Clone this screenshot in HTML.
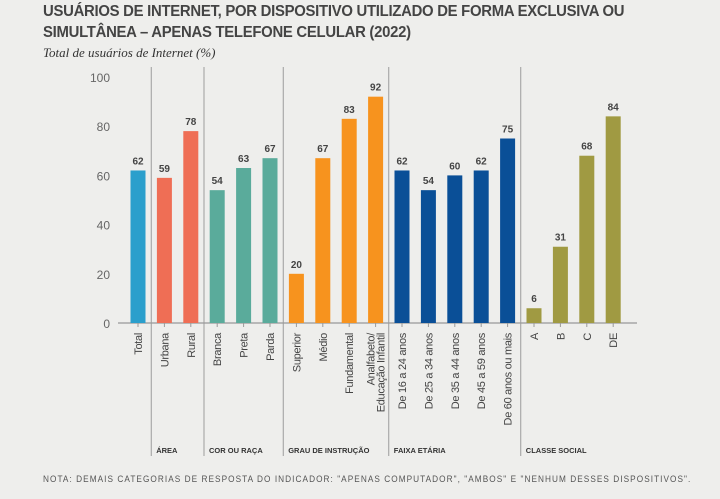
<!DOCTYPE html>
<html><head><meta charset="utf-8"><style>
body{margin:0;background:#eeeeec;width:720px;height:499px;overflow:hidden;font-family:"Liberation Sans",sans-serif}
.t{position:absolute;left:43px;top:1px;font-size:16px;font-weight:bold;color:#444;line-height:21px;letter-spacing:-0.3px;transform:scaleX(0.93);transform-origin:left;white-space:nowrap}
.s{position:absolute;left:43px;top:45px;font-family:"Liberation Serif",serif;font-style:italic;font-size:13px;color:#333}
.n{position:absolute;left:43px;top:474px;font-size:9px;color:#555;letter-spacing:1.15px;white-space:nowrap;transform:scaleX(0.915);transform-origin:left}
</style></head><body>
<div class="t">USUÁRIOS DE INTERNET, POR DISPOSITIVO UTILIZADO DE FORMA EXCLUSIVA OU<br>SIMULTÂNEA – APENAS TELEFONE CELULAR (2022)</div>
<div class="s">Total de usuários de Internet (%)</div>
<svg id="c" width="720" height="499" style="position:absolute;left:0;top:0"></svg>
<div class="n">NOTA: DEMAIS CATEGORIAS DE RESPOSTA DO INDICADOR: "APENAS COMPUTADOR", "AMBOS" E "NENHUM DESSES DISPOSITIVOS".</div>
<script>
const categories=["Total","Urbana","Rural","Branca","Preta","Parda","Superior","Médio","Fundamental","Analfabeto/|Educação Infantil","De 16 a 24 anos","De 25 a 34 anos","De 35 a 44 anos","De 45 a 59 anos","De 60 anos ou mais","A","B","C","DE"];
const values=[62,59,78,54,63,67,20,67,83,92,62,54,60,62,75,6,31,68,84];
const groupIdx=[0,1,1,2,2,2,3,3,3,3,4,4,4,4,4,5,5,5,5];
const groupNames=["","ÁREA","COR OU RAÇA","GRAU DE INSTRUÇÃO","FAIXA ETÁRIA","CLASSE SOCIAL"];
const yTicks=[0,20,40,60,80,100];
const colors=["#2b9fcc","#ef6e55","#5aab9b","#f7931e","#0a4f97","#a09a42"];
const NS="http://www.w3.org/2000/svg",svg=document.getElementById("c");
const y=v=>323-v*2.46, x=i=>138+i*26.4;
function mk(t,a,txt){const e=document.createElementNS(NS,t);for(const k in a)e.setAttribute(k,a[k]);if(txt!=null)e.textContent=txt;svg.appendChild(e);return e;}
yTicks.forEach(v=>{const e=mk("text",{x:110,y:y(v)+5,"text-anchor":"end","font-size":12,fill:"#666"},v);

});
for(let i=1;i<categories.length;i++){if(groupIdx[i]!==groupIdx[i-1]){const sx=(x(i)+x(i-1))/2;const l=mk("line",{x1:sx,x2:sx,y1:67,y2:456,stroke:"#888","stroke-width":0.8});


const g=mk("text",{x:sx+5,y:453,"font-size":7.5,"font-weight":"bold",fill:"#333"},groupNames[groupIdx[i]]);

}}
const ax=mk("line",{x1:118,x2:637,y1:323,y2:323,stroke:"#999","stroke-width":1.2});


categories.forEach((c,i)=>{const v=values[i],cx=x(i);
const r=mk("rect",{x:cx-7.5,y:y(v),width:15,height:323-y(v),fill:colors[groupIdx[i]]});


const lb=mk("text",{x:cx,y:y(v)-6,"text-anchor":"middle","font-size":10,"font-weight":"bold",fill:"#444"},v);


mk("line",{x1:cx,x2:cx,y1:323,y2:327,stroke:"#999"});
const parts=c.split("|");
parts.forEach((p,j)=>{const tx=cx+4-(parts.length-1-j)*10+ (parts.length>1?5:0);
const t=mk("text",{x:tx,y:333,"text-anchor":"end","font-size":11,fill:"#444",transform:`rotate(-90 ${tx} 333)`,style:"letter-spacing:-0.3px"},p);

});
});
</script>
</body></html>
